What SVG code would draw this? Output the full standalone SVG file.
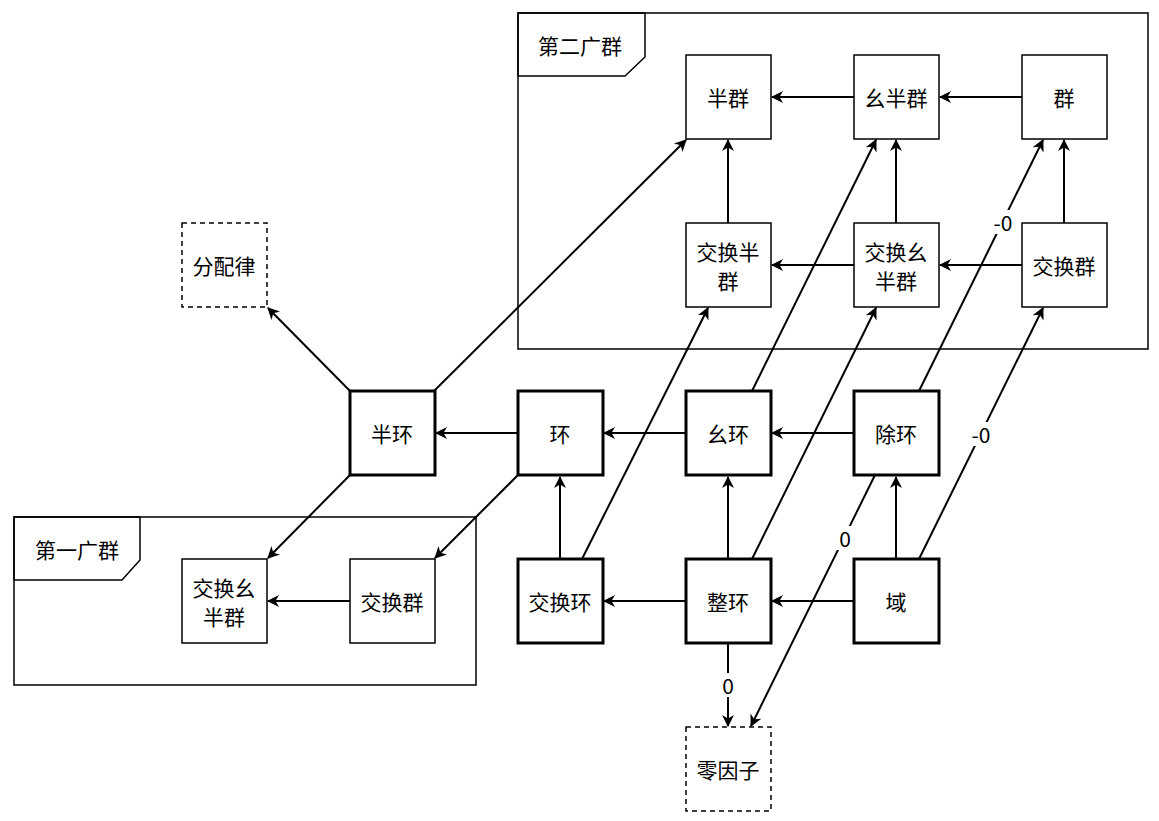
<svg xmlns="http://www.w3.org/2000/svg" width="1159" height="821" viewBox="0 0 1159 821">
<defs>
<marker id="a" markerWidth="12" markerHeight="12" refX="11" refY="6" orient="auto" markerUnits="userSpaceOnUse"><path d="M0,0 L12,6 L0,12 L3.5,6 Z" fill="#000"/></marker>
<style>
text{font-family:"Noto Sans CJK SC","Noto Sans",sans-serif;font-size:21px;fill:#000;text-anchor:middle;dominant-baseline:central}
.n{fill:#fff;stroke:#000;stroke-width:1.5}
.t{fill:#fff;stroke:#000;stroke-width:3}
.d{fill:#fff;stroke:#000;stroke-width:1.5;stroke-dasharray:5 4}
.e{stroke:#000;stroke-width:2;fill:none;marker-end:url(#a)}
.g{fill:none;stroke:#000;stroke-width:1.5}
.lb{fill:#fff}
</style>
</defs>
<g id="group2"><rect class="g" x="518" y="13" width="630" height="336"/><path class="g" d="M518,13 H645 V57 L625,76 H518 Z" fill="#fff"/><text x="580" y="45">第二广群</text></g>
<g id="group1"><rect class="g" x="14" y="517" width="462" height="168"/><path class="g" d="M14,517 H140 V560 L122,580 H14 Z" fill="#fff"/><text x="77" y="549">第一广群</text></g>
<g id="edges">
<line class="e" x1="854" y1="97" x2="772" y2="97"/>
<line class="e" x1="1022" y1="97" x2="940" y2="97"/>
<line class="e" x1="728" y1="223" x2="728" y2="140"/>
<line class="e" x1="896" y1="223" x2="896" y2="140"/>
<line class="e" x1="1064" y1="223" x2="1064" y2="140"/>
<line class="e" x1="854" y1="265" x2="772" y2="265"/>
<line class="e" x1="1022" y1="265" x2="940" y2="265"/>
<line class="e" x1="350" y1="391" x2="268" y2="308"/>
<line class="e" x1="434" y1="391" x2="686" y2="140"/>
<line class="e" x1="350" y1="475" x2="268" y2="558"/>
<line class="e" x1="518" y1="475" x2="435" y2="558"/>
<line class="e" x1="350" y1="601" x2="268" y2="601"/>
<line class="e" x1="518" y1="433" x2="436" y2="433"/>
<line class="e" x1="686" y1="433" x2="604" y2="433"/>
<line class="e" x1="854" y1="433" x2="772" y2="433"/>
<line class="e" x1="560" y1="559" x2="560" y2="477"/>
<line class="e" x1="728" y1="559" x2="728" y2="477"/>
<line class="e" x1="896" y1="559" x2="896" y2="477"/>
<line class="e" x1="686" y1="601" x2="604" y2="601"/>
<line class="e" x1="854" y1="601" x2="772" y2="601"/>
<line class="e" x1="582" y1="559" x2="708" y2="308"/>
<line class="e" x1="752" y1="391" x2="876" y2="140"/>
<line class="e" x1="752" y1="559" x2="876" y2="308"/>
<line class="e" x1="919" y1="391" x2="1043" y2="140"/>
<line class="e" x1="919" y1="559" x2="1043" y2="308"/>
<line class="e" x1="728" y1="643" x2="728" y2="726"/>
<line class="e" x1="875" y1="475" x2="751" y2="726"/>
<rect class="lb" x="990" y="210" width="26" height="24"/><text x="1003" y="222">-0</text>
<rect class="lb" x="968" y="422" width="26" height="24"/><text x="981" y="434">-0</text>
<rect class="lb" x="719" y="673" width="18" height="24"/><text x="728" y="685">0</text>
<rect class="lb" x="836" y="526" width="18" height="24"/><text x="845" y="538">0</text>
</g>
<g id="n-banqun"><rect class="n" x="686" y="55" width="85" height="84"/><text x="728" y="97">半群</text></g>
<g id="n-yaobanqun"><rect class="n" x="854" y="55" width="85" height="84"/><text x="896" y="97">幺半群</text></g>
<g id="n-qun"><rect class="n" x="1022" y="55" width="85" height="84"/><text x="1064" y="97">群</text></g>
<g id="n-jhbq"><rect class="n" x="686" y="223" width="85" height="84"/><text x="728" y="251">交换半</text><text x="728" y="280">群</text></g>
<g id="n-jhybq"><rect class="n" x="854" y="223" width="85" height="84"/><text x="896" y="251">交换幺</text><text x="896" y="280">半群</text></g>
<g id="n-jhq"><rect class="n" x="1022" y="223" width="85" height="84"/><text x="1064" y="265">交换群</text></g>
<g id="n-fpl"><rect class="d" x="182" y="223" width="85" height="84"/><text x="224" y="265">分配律</text></g>
<g id="n-jhybq1"><rect class="n" x="182" y="559" width="85" height="84"/><text x="224" y="587">交换幺</text><text x="224" y="616">半群</text></g>
<g id="n-jhq1"><rect class="n" x="350" y="559" width="85" height="84"/><text x="392" y="601">交换群</text></g>
<g id="n-banhuan"><rect class="t" x="350" y="391" width="85" height="84"/><text x="392" y="433">半环</text></g>
<g id="n-huan"><rect class="t" x="518" y="391" width="85" height="84"/><text x="560" y="433">环</text></g>
<g id="n-yaohuan"><rect class="t" x="686" y="391" width="85" height="84"/><text x="728" y="433">幺环</text></g>
<g id="n-chuhuan"><rect class="t" x="854" y="391" width="85" height="84"/><text x="896" y="433">除环</text></g>
<g id="n-jhh"><rect class="t" x="518" y="559" width="85" height="84"/><text x="560" y="601">交换环</text></g>
<g id="n-zhenghuan"><rect class="t" x="686" y="559" width="85" height="84"/><text x="728" y="601">整环</text></g>
<g id="n-yu"><rect class="t" x="854" y="559" width="85" height="84"/><text x="896" y="601">域</text></g>
<g id="n-lyz"><rect class="d" x="686" y="727" width="85" height="84"/><text x="728" y="769">零因子</text></g>
</svg>
